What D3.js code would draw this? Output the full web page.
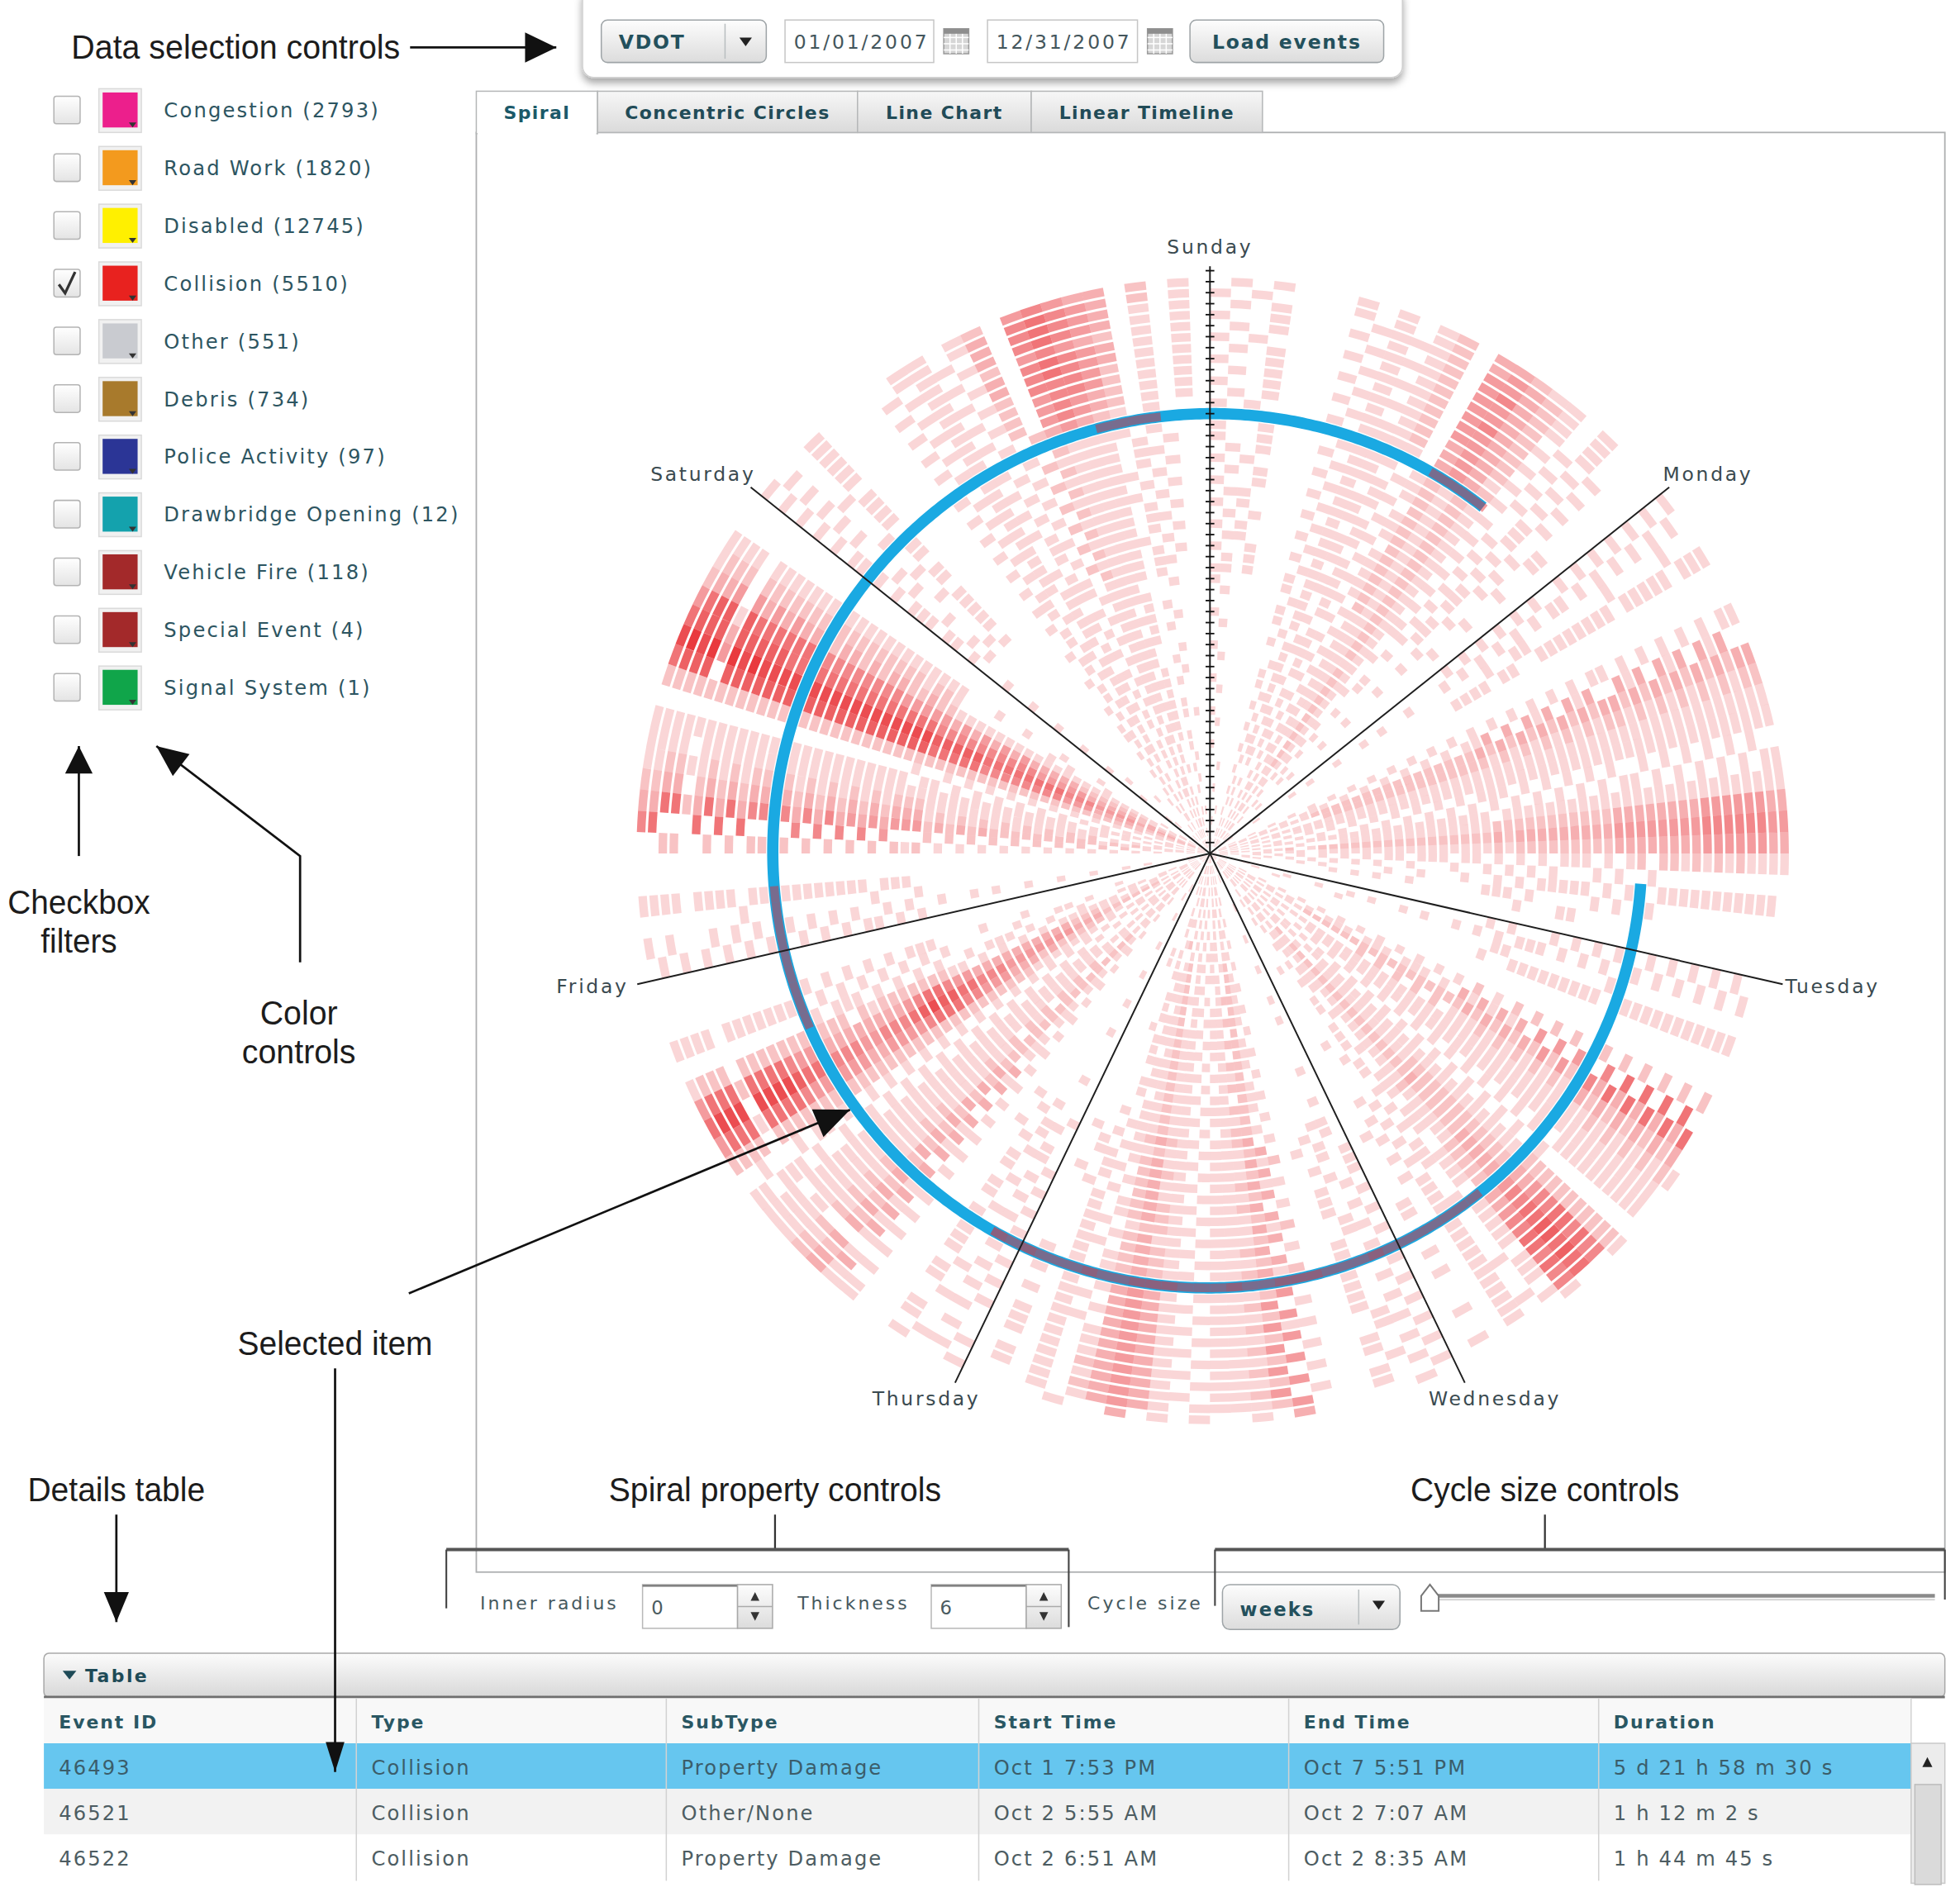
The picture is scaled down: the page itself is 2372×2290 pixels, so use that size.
<!DOCTYPE html>
<html>
<head>
<meta charset="utf-8">
<script src="https://cdn.jsdelivr.net/npm/d3@7"></script>
<style>
  body { margin: 0; background: #fff; }
  svg { display: block; }
  text { font-family: "DejaVu Sans", Verdana, sans-serif; }
  .note { font-family: "Liberation Sans", Arial, sans-serif; fill: #1c1c1c; }
</style>
</head>
<body>
<svg id="chart"></svg>
<script>
// ---- data ----
var eventTypes = ["Congestion", "Road Work", "Disabled", "Collision", "Other", "Debris",
  "Police Activity", "Drawbridge Opening", "Vehicle Fire", "Special Event", "Signal System"];
var eventCounts = [2793, 1820, 12745, 5510, 551, 734, 97, 12, 118, 4, 1];
var typeColors = ["#ec1f8c", "#f39a1e", "#fff000", "#e8221f", "#c9cbd0", "#a87a2c",
  "#2b3596", "#14a2ad", "#a3292a", "#a3292a", "#10a54a"];
var typeChecked = [false, false, false, true, false, false, false, false, false, false, false];

var dayNames = ["Sunday", "Monday", "Tuesday", "Wednesday", "Thursday", "Friday", "Saturday"];
var tabNames = ["Spiral", "Concentric Circles", "Line Chart", "Linear Timeline"];

// collisions per hour, one row per week (week 0 starts Sun 31 Dec 2006).
// each row: 28 blocks of 6 hours (4 per day, Sun..Sat), '.' = none, 1..9 = relative count
var collisionsByWeek = [
  "...... ...... ...... ......  ...... .1.11. 11.1.. 1.....  .1.... 1.11.1 .11.1. 1.1...  ...... .11.11 1.1.1. .1.1..  1..... 11.1.. .1.11. 11....  ...... 1.1.11 .1.12. 11.1..  .1.... ..1.1. 1.11.. .1....",
  "1.1... ..1.1. .11.1. 1.....  ...... 11.11. .1.11. 1.1...  ...1.. .11.1. 1.1.11 .1....  .1.... 1.1.11 ..11.1 11....  ...... .11.1. 1.1.1. .1.1..  .1.... 1.1.11 .1.121 1.1...  1..1.. .1..1. 1.1.1. ..1...",
  "...... .1.1.. 1..11. .1.1..  .1.... 1.11.1 .1.11. 1.....  ...... .1.1.1 1.1.1. 11....  ..1... 1.1.1. .11.1. .1.1..  ...... 11.1.1 1.1.11 1.....  1..... .11.1. 1.1221 .11...  ...... 1..1.. .1.11. 1.....",
  ".1.... ..1.1. .1.1.1 1.....  ...... .11.1. 1.1.1. .11...  1..... 1.1.11 .1.1.1 1.....  ...... .11.1. 1..11. 1.1...  .1.... 1.1.1. .11.1. .1....  ...... .11.11 1.1232 11....  .1.... ..11.. 1.1.1. .1.1..",
  "...1.. .1.... 1.1.1. .1....  ...... 1.1.11 .1.1.1 1.1...  .1.... .11.1. 1.11.. .1....  ...... 1.1.1. .1.11. 1.....  ..1... .11.11 1.1.1. 11....  ...... 1.11.1 .11232 1.1...  1..... .1.1.. .1.1.1 ......",
  "...... ..1.1. .1.11. 1.....  .1.... .11.1. 1.1.11 .1....  ...... 1.1.11 .1.1.1 1.1...  1..... .1.11. 1.1.1. .1....  ...... 1.11.1 .1.121 1.....  .1.... .11.1. 1.1233 11....  ...... 1..1.1 .11.1. .1....",
  ".1.... .1.1.. 1.1.1. .1.1..  ...... 1.1.11 .11.1. 1.....  ..1... .11.1. 1.1.11 .1....  ...... 1.1.1. .1.1.1 11....  .1.... .11.11 1.1.21 .1....  ...... 1.21.1 .12232 21....  ...1.. .1.1.. 1.11.. ..1...",
  "...... ..1.1. .11.1. 1.....  ...... .11.1. 1.1.21 .1....  .1.... 1.1.11 .1.1.1 1.1...  ...... .11.1. 1.1.1. .1....  ...... 1.11.1 .11.21 11....  .1.... .21.11 1.2343 21....  1..... ..1.1. .1.1.1 .1....",
  "..1... .1.... 1.1.11 ......  ...... 1.1.11 .1.1.1 1.1...  ...... .11.1. 1.11.1 .1....  .1.... 1.1.11 .1.1.2 1.....  ...... .11.1. 1.1.21 .1.1..  ...... 1.21.1 .12343 21....  ...... .1.1.. 1.1.1. ..1...",
  "...... ..1.1. .1.11. 1.1...  .1.... .11.11 1.1.1. .1....  ...... 1.1.1. .11.21 1.....  ...... .11.11 1.1.1. .1.1..  .1.... 1.1.1. .1.121 1.....  ...... .21.11 1.2343 21....  .1.... ..1.1. 1.1.1. .1....",
  "1..... .1.11. 1.1121 .1.1..  ...... 112.11 .11.21 1.1...  .1.... .12.1. 1.1.11 11....  ...... 1.21.1 .11.21 .1.1..  ...... .1211. 1.1121 1.....  .1.... 1.2211 .12343 211...  ...... .1.11. 1.11.1 .1....",
  "...... ..11.1 .11.21 1.....  .1.... .12211 1.1.21 .1.1..  ...... 1.2.11 .1.121 1.....  .1.... .12.11 1.1.21 11....  ...... 112.1. .1.232 1.1...  ...... .2211. 1.2453 21.1..  1..... ..1.1. .1.111 ......",
  ".1.... .1.1.1 1.1.21 .1....  ...... 1.2211 .11121 1.....  ..1... .12.11 1.1.21 .1.1..  ...... 112.1. .11.21 1.....  .1.... .1211. 1.1232 11....  ...... 1.2211 .12454 21....  ...... .11.1. 1.1.11 .1.1..",
  "1..... ..1.11 .11121 1.....  ...... .12211 1.1121 .1.1..  .1.... 112.11 .11.21 1.....  ...... .1221. 1.1121 11....  ...... 1.2.11 .11232 1.1...  .1.... .22111 1.2454 31....  ...... .1.11. 1.1111 .1....",
  "...... .1.11. 1.1121 .1.1..  .1.... 1.2211 .11121 1.....  ...... .12.11 1.1121 11....  .1.... 112.11 .11.21 .1....  ...... .12211 1.1243 1.1...  ...... 1.2211 .12564 311...  1..... ..1.11 .111.1 ......",
  ".1.... ..11.1 .11.21 1.....  ...... .12211 1.1121 .1.1..  .1.... 1.2.11 .11121 1.....  ...... .12211 1.1.21 11....  .1.... 112.11 .11243 .1....  ...... .22111 1.2564 31.1..  ...... .1.11. 1.1111 .1....",
  "1..... .1.1.1 1.1121 ......  ...... 1.2211 .11121 1.1...  ...... .12211 1.1121 .1....  .1.... 1.2.11 .11121 1.1...  ...... .12211 1.1343 1.....  .1.... 1.2211 .12564 311...  ...... ..1.11 .111.1 ..1...",
  "...... .1.11. .11121 .1.1..  .1.... .12211 1.1121 1.....  ...... 112.11 .11121 .1....  ...... .12211 1.1121 11....  ...... 1.2111 .11243 .1.1..  ...... .22111 1.2565 31....  1..... ..1.11 1.111. .1....",
  ".1.... ..11.1 1.1121 ......  ...... 1.2211 .11121 .1.1..  .1.... .12211 1.1121 1.....  ...... 112.11 .11121 .1....  .1.... .12211 1.1343 1.1...  ...... 1.2211 .12565 41....  ...... .1.11. .1111. ..1...",
  "1..... ...1.1 .11121 1.....  .1.... .12211 1.1121 1.1...  ...... 1.2.11 .11121 .1....  ...... .1221. 1.1121 11....  ...... 112.11 .12343 .1....  .1.... .22111 1.2565 31.1..  ...... ..1.11 1.1111 ......",
  "...... .1.111 1.1121 .1....  ...... 1.2211 .11121 1.....  .1.... .12211 1.1121 .1.1..  ...... 1.2111 .11121 1.....  ...... .12211 1.2343 11....  ...... 1.3211 .12565 41....  1..... ..11.1 .111.1 .1....",
  ".1.... ..1.11 .11111 .1.1..  ...... .12211 1.1121 1.....  ...... 112.11 .11121 .1....  .1.... .1221. 1.1121 11....  ...... 1.2111 .12453 .1.1..  .1.... .22111 1.2565 31....  ...... .1.11. 1.1111 ..1...",
  "1..... .1.1.1 1.1121 ......  .1.... 1.2211 .11121 .1....  ...... .12211 1.1121 1.1...  ...... 112.11 .11121 .1....  ...... .12211 1.2453 1.....  ...... 1.3211 .12675 41.1..  ...... ..1.11 .111.1 .1....",
  "...... .1.11. .11121 1.....  ...... .12211 1.1121 1.1...  .1.... 1.2.11 .11121 .1....  ...... .12211 1.1121 1.....  .1.... 112.11 .12453 .1....  ...... .22111 1.2675 31....  1..... ..1.11 1.1111 ......",
  ".1.... ..11.1 1.1121 .1.1..  ...... 1.2211 .11121 1.....  ...... .12211 1.1121 .1....  .1.... 1.2111 .11121 1.1...  ...... .12211 1.2564 1.....  .1.... 1.3211 .12675 41....  ...... .1.11. .1111. ..1...",
  "1..... .1.1.1 .11121 ......  ...... .12211 1.1121 .1.1..  .1.... 1.2.11 .11121 1.....  ...... .1221. 1.1121 11....  ...... 1.2111 .12564 1.1...  ...... .22111 1.2675 31....  ...... ..1.11 1.1111 .1....",
  "11.1.. .1.111 1.2121 11.1..  .1.1.. 113211 11.232 1.11..  1..1.. .32111 1.1221 11.1..  .11... 1.3211 .11232 1.1.1.  ..1.1. .32111 1.2675 21.1..  1.1... 2.4321 1.2675 4211..  .1.1.. .11.11 1.2111 .11...",
  ".1.1.. ..1111 .12121 1.1.1.  1..1.. .32111 1.1221 .1.1..  .11... 213111 .11232 1.1...  .1.1.. .32111 1.1121 11.1..  1..1.. 113211 .12676 2.11..  .1.1.. 1.4321 .12786 4221..  1.1... ..11.1 .21111 .1.1..",
  "1..1.. .1.1.1 112121 .11...  .1.1.. 1.3211 .11232 1.1.1.  1.1... .32111 1.1221 .1.1..  ..1.1. 213111 .11132 1.11..  .11... .32111 1.2686 21.1..  1..1.. 2.4321 1.2786 4321..  .1.1.. .1.11. 1.2111 1.1...",
  ".11... ..1111 .12121 1.1...  1..1.. .32111 1.1232 .1.1..  .1.1.. 113211 .11221 1.1.1.  1.1... .32111 1.1232 .11...  ..1.1. 1.3111 .12575 2.1...  .1.1.. .43211 1.2786 4211..  1..1.. ..11.1 .21111 .1.1..",
  "1.1... .1.11. 112121 .1.1..  .11... 1.3211 .11232 1.1...  .1.1.. .32111 1.1221 11.1..  1..1.. 113211 .11132 1.1.1.  .1.1.. .32111 1.2464 21.1..  1.1... 2.4321 1.2786 4221..  1..1.. .1.1.1 1.2111 .11...",
  ".1.1.. ..1111 .12121 1.1.1.  1..1.. .32111 1.1232 .11...  .1.1.. 213211 .11221 1.1...  1.1... .32111 1.1132 .1.1..  .11... 1.3111 .12453 2.1...  1..1.. .53211 1.2786 5321..  .1.1.. ..11.1 .21111 .1.1..",
  "1.1... .1.1.1 1.2121 .11...  .1.1.. 113211 .11232 1.1.1.  1..1.. .32111 1.1221 .1.1..  .1.1.. 1.3211 .11232 1.1...  1..1.. .32111 1.2453 21.1..  .1.1.. 2.4321 1.2786 5321..  1..1.. .1.11. 1.2111 1.1...",
  ".11... ..1111 .12121 1.1...  1.1... .32111 1.1232 1.1.1.  .1.1.. 2.3211 .11221 .11...  1..1.. .32111 1.1232 1.1...  .1.1.. 113211 .12453 1.1...  1..1.. .53211 1.2786 5221..  1.1... ..11.1 .21111 .1.1..",
  "1..1.. .1.11. 112121 .1.1..  .11... 1.3211 .11232 1.1...  1..1.. .42111 1.1232 11.1..  .1.1.. 213111 .11221 .11...  1.1... .32111 1.2343 21.1..  .1.1.. 2.5321 1.2786 5321..  1..1.. .1.11. 1.2111 1.1...",
  ".1.1.. ..1111 .12121 1.1.1.  1..1.. .32111 1.1232 .1.1..  .1.1.. 2.4211 .11232 1.1...  1.1... .32111 1.1132 1.1...  .1.1.. 113211 .12343 .11...  1..1.. .53211 1.2786 5221..  .1.1.. ..11.1 .21111 .1.1..",
  "1.1... .1.1.1 1.2121 .1.1..  .1.1.. 113211 .11232 1.1...  1..1.. .42111 1.1232 1.1.1.  .11... 1.3211 .11232 .11...  1..1.. .32111 1.2453 21.1..  .1.1.. 2.5321 1.2786 5321..  1.1... .1.11. 1.2111 .11...",
  ".1.1.. ..1111 .12121 1.1...  1..1.. .32111 1.1343 .1.1..  .1.1.. 2.4211 .11232 1.1.1.  1..1.. .32111 1.1232 1.1...  .11... 1.3111 .12453 2.1...  1..1.. .53211 1.2786 5321..  .1.1.. ..11.1 .21111 .1.1..",
  "1..1.. .1.11. 112121 .1.1..  .1.1.. 1.3211 .11343 1.1...  1.1... .42111 1.1232 .11...  .1.1.. 213211 .11232 1.1.1.  1..1.. .32111 1.2453 21.1..  .1.1.. 2.5321 1.2786 5221..  1..1.. .1.11. 1.2111 1.1...",
  "1..1.. ..1111 .12121 1.1.1.  .1.1.. 1.3211 .11343 2.....  ...... ...... ...... 444444  454445 554454 445554 454445  45.... ...... ...... .44444  4444.. ...... ...... ......  ...... ...... .....4 444...",
  "...... ...... ..4444 ..1.1.  1..1.. .32111 1.1343 .1.1..  .1.1.. 2.5311 .12343 1.1...  1..1.. .42111 1.1343 1.1.1.  .1.1.. 113211 .12464 2.1...  1..1.. 2.5321 1.2786 6321..  1.1... ..11.1 .23432 1.1...",
  "1.1... .1.111 1.3432 1.1...  .1.1.. 113211 .11343 2.1...  1..1.. .53211 1.2353 1.1.1.  .1.1.. 1.4211 .11343 .11...  1..1.. .32111 1.2464 2.1...  .1.1.. 2.5321 1.2786 6321..  1..1.. .1.11. 2.4543 2.1.1.",
  ".1.1.. ..1111 2.3431 .1.1..  1..1.. .32111 1.1343 2.1...  .1.1.. 2.6321 1.2454 1.1...  1..1.. .42111 1.1343 1.1.1.  .1.1.. 113211 .12575 2.1...  1.1... .63211 1.2787 6421..  .1.1.. ..11.1 2.4543 2.1.1.",
  "1..1.. .1.1.1 2.3432 1.1...  .11... 1.3211 .11343 1.1...  1..1.. .63211 1.2565 1.1.1.  .1.1.. 114211 .11343 .11...  1.1... .32111 .12686 2.1...  .1.1.. 2.6321 1.2787 6321..  1..1.. .1.11. 2.4554 2.1.1.",
  ".1.1.. ..1111 2.4432 .1.1..  1..1.. .32111 1.1343 2.1...  .1.1.. 2.6321 1.2565 1.1...  1.1... .42111 1.1343 1.1.1.  .1.1.. 113211 1.2686 2.1...  1..1.. .63211 1.2797 6421..  .1.1.. ..11.1 2.5554 2.1.1.",
  "1..1.. .1.1.1 2.4432 1.1...  .1.1.. 113211 .11454 1.1...  1..1.. .63211 1.2676 .11...  .11... 1.4211 .11343 1.1.1.  1..1.. .32111 .12686 2.1...  .1.1.. 2.6321 1.2787 6321..  1.1... .1.11. 3.5654 3.1.1.",
  ".1.1.. ..1111 2.4532 .1.1..  1..1.. .32111 1.1454 2.1...  .1.1.. 2.6321 1.2676 1.1...  1..1.. .42111 1.1343 1.1.1.  .11... 113211 1.2686 2.1...  1..1.. .63211 1.2797 7421..  .1.1.. ..11.1 3.5654 3.1.1.",
  "1.1... .1.1.1 2.4432 1.1...  .1.1.. 1.3211 .11454 1.1...  1..1.. .63211 1.2565 1.1.1.  .1.1.. 1.4211 .11343 2.1...  ...... ....1. 1..1.2 ......  ...... ..2.1. 1.2.43 1.....  1..1.. .1.11. 2.4543 2.1.1.",
  ".1.1.. ..1111 2.4432 .1.1..  1..1.. .32111 1.1454 2.1...  .1.1.. 2.6321 1.2676 1.1...  1.1... .42111 1.1343 1.1.1.  .1.1.. 113211 1.2686 2.1...  1..1.. 2.6321 1.2797 7421..  .1.1.. ..11.1 3.5654 3.1.1.",
  "1..1.. .1.1.1 2.4532 1.1...  .11... 113211 .11454 1.1...  1..1.. .63211 1.2565 .11...  .1.1.. 1.4211 .11343 2.1.1.  1..1.. .32111 .12686 2.1...  .1.1.. 2.6321 1.2787 7321..  1..1.. .1.11. 3.5654 3.1.1.",
  ".1.1.. ..1111 2.4432 1.1...  1..1.. .32111 1.1454 1.1...  .1.1.. 2.6321 1.2565 1.1.1.  1..1.. .42111 1.1343 1.1...  .11... 113211 1.2686 2.1...  1..1.. .63211 1.2797 6321..  .1.1.. ..11.1 3.5654 3.2.1.",
  "1.1... .1.1.1 2.3432 1.1...  .1.1.. 1.3211 .11343 1.1...  ...... ....1. ..1..1 ......  .1.... .3.1.. 1.1.3. .1....  1..1.. 113211 1.2464 1.1...  .1.1.. .53211 1.2686 4211..  1..1.. ..11.1 2.4543 3.2.1.",
  ".1.1.. .1.1.1 2.3321 1.1...  1..1.. 1.3211 .11343 1....."
];

// selected collision (highlighted in blue)
var selectedStart = Date.UTC(2007, 9, 1, 19, 53);
var selectedEnd = Date.UTC(2007, 9, 7, 17, 51);
var spiralOrigin = Date.UTC(2006, 11, 31);

var tableColumns = ["Event ID", "Type", "SubType", "Start Time", "End Time", "Duration"];
var tableRows = [
  ["46493", "Collision", "Property Damage", "Oct 1 7:53 PM", "Oct 7 5:51 PM", "5 d 21 h 58 m 30 s"],
  ["46521", "Collision", "Other/None", "Oct 2 5:55 AM", "Oct 2 7:07 AM", "1 h 12 m 2 s"],
  ["46522", "Collision", "Property Damage", "Oct 2 6:51 AM", "Oct 2 8:35 AM", "1 h 44 m 45 s"]
];

// ---- page ----
var W = 1568, H = 1514;
var svg = d3.select("#chart")
  .attr("width", 2372).attr("height", 2290)
  .attr("viewBox", "0 0 " + W + " " + H);

var defs = svg.append("defs");
function grad(id, c0, c1) {
  var lg = defs.append("linearGradient").attr("id", id)
    .attr("x1", 0).attr("y1", 0).attr("x2", 0).attr("y2", 1);
  lg.append("stop").attr("offset", "0%").attr("stop-color", c0);
  lg.append("stop").attr("offset", "100%").attr("stop-color", c1);
}
grad("btn", "#fdfdfd", "#dcdcdc");
grad("tab", "#f7f7f7", "#dadada");
grad("bar", "#fcfcfc", "#d8d8d8");
grad("chk", "#ffffff", "#e4e4e4");
defs.append("filter").attr("id", "shadow").attr("x", "-10%").attr("y", "-30%").attr("width", "120%").attr("height", "180%")
  .append("feDropShadow").attr("dx", 0).attr("dy", 4).attr("stdDeviation", 3)
  .attr("flood-color", "#000").attr("flood-opacity", 0.35);

var ink = "#2d5561";

// ---- top control panel ----
var panel = svg.append("g");
panel.append("rect").attr("x", 466).attr("y", -10).attr("width", 656).attr("height", 72).attr("rx", 9)
  .attr("fill", "#fff").attr("stroke", "#cfcfcf").attr("filter", "url(#shadow)");

function button(x, y, w, h, label, divider) {
  panel.append("rect").attr("x", x).attr("y", y).attr("width", w).attr("height", h).attr("rx", 5)
    .attr("fill", "url(#btn)").attr("stroke", "#9ea4a7");
  panel.append("text").attr("x", divider ? x + 14 : x + w / 2).attr("y", y + 23)
    .attr("text-anchor", divider ? "start" : "middle")
    .attr("font-size", 15.5).attr("font-weight", "bold").attr("letter-spacing", 1.2)
    .attr("fill", "#23505c").text(label);
  if (divider) {
    panel.append("line").attr("x1", x + divider).attr("x2", x + divider).attr("y1", y + 3).attr("y2", y + h - 3)
      .attr("stroke", "#b9bec0");
    var ax = x + divider + (w - divider) / 2;
    panel.append("path").attr("d", "M" + (ax - 5) + "," + (y + 14) + "L" + (ax + 5) + "," + (y + 14) + "L" + ax + "," + (y + 21) + "Z")
      .attr("fill", "#222");
  }
}
function dateField(x, w, label) {
  panel.append("rect").attr("x", x).attr("y", 16).attr("width", w).attr("height", 34)
    .attr("fill", "#fff").attr("stroke", "#c6c6c6");
  panel.append("text").attr("x", x + 7).attr("y", 39).attr("font-size", 15.5).attr("letter-spacing", 1.9)
    .attr("fill", "#44565c").text(label);
  var ix = x + w + 8;
  panel.append("rect").attr("x", ix).attr("y", 23).attr("width", 20).attr("height", 20)
    .attr("fill", "#d6d6d6").attr("stroke", "#9a9a9a");
  [0.25, 0.5, 0.75].forEach(function (f) {
    panel.append("line").attr("x1", ix + 20 * f).attr("x2", ix + 20 * f).attr("y1", 26).attr("y2", 43).attr("stroke", "#fff");
    panel.append("line").attr("x1", ix).attr("x2", ix + 20).attr("y1", 23 + 20 * f + 2).attr("y2", 23 + 20 * f + 2).attr("stroke", "#fff");
  });
  panel.append("rect").attr("x", ix).attr("y", 23).attr("width", 20).attr("height", 4).attr("fill", "#8e8e8e");
}
button(481, 16, 132, 34, "VDOT", 99);
dateField(628, 119, "01/01/2007");
dateField(790, 120, "12/31/2007");
button(952, 16, 155, 34, "Load events", 0);

// ---- legend ----
var legend = svg.append("g");
eventTypes.forEach(function (name, i) {
  var y = 88 + i * 46.2;
  legend.append("rect").attr("x", 43).attr("y", y - 11).attr("width", 21).attr("height", 22).attr("rx", 2)
    .attr("fill", "url(#chk)").attr("stroke", "#b4b4b4");
  if (typeChecked[i]) {
    legend.append("path").attr("d", "M" + 47 + "," + (y + 1) + "L" + 52 + "," + (y + 8) + "L" + 60 + "," + (y - 9))
      .attr("fill", "none").attr("stroke", "#333").attr("stroke-width", 2.2);
  }
  legend.append("rect").attr("x", 79).attr("y", y - 17).attr("width", 34).attr("height", 35)
    .attr("fill", "#f1f1f1").attr("stroke", "#dadada");
  legend.append("rect").attr("x", 82).attr("y", y - 14).attr("width", 28).attr("height", 28).attr("fill", typeColors[i]);
  legend.append("path").attr("d", "M" + 103 + "," + (y + 10) + "L" + 109 + "," + (y + 10) + "L" + 106 + "," + (y + 14) + "Z")
    .attr("fill", "#333");
  legend.append("text").attr("x", 131).attr("y", y + 6).attr("font-size", 16).attr("letter-spacing", 1.45)
    .attr("fill", ink).text(name + " (" + eventCounts[i] + ")");
});

// ---- tabs and main panel ----
var tabX = [381, 478, 686, 825, 1010];
svg.append("rect").attr("x", 381).attr("y", 106).attr("width", 1175).attr("height", 1152)
  .attr("fill", "#fff").attr("stroke", "#aeb0b1").attr("stroke-width", 1.2);
tabNames.forEach(function (t, i) {
  var x0 = tabX[i], x1 = tabX[i + 1];
  svg.append("rect").attr("x", x0).attr("y", 73).attr("width", x1 - x0).attr("height", i === 0 ? 34 : 33)
    .attr("fill", i === 0 ? "#fff" : "url(#tab)").attr("stroke", "#b5b7b8");
  svg.append("text").attr("x", (x0 + x1) / 2).attr("y", 95).attr("text-anchor", "middle")
    .attr("font-size", 14.5).attr("font-weight", "bold").attr("letter-spacing", 0.95)
    .attr("fill", i === 0 ? "#1b5969" : "#214b57").text(t);
});
svg.append("rect").attr("x", 382).attr("y", 100).attr("width", 95).attr("height", 8).attr("fill", "#fff");

// ---- spiral ----
var cx = 968, cy = 683, pitch = 8.8, cellThick = 6.8, binHours = 1, lineLen = 470;
var angle = d3.scaleLinear().domain([0, 168]).range([0, 2 * Math.PI]);
var radius = d3.scaleLinear().domain([0, 53]).range([0, 53 * pitch]);

var cells = [];
collisionsByWeek.forEach(function (row, w) {
  row.trim().split(/\s+/).forEach(function (block, g) {
    for (var i = 0; i < Math.min(block.length, 6); i++) {
      if (block[i] !== ".") cells.push({ week: w, hour: g * 6 + i, v: +block[i] });
    }
  });
});

var spiral = svg.append("g").attr("transform", "translate(" + cx + "," + cy + ")");

// selected item as a spiral band
var hoursFrom = function (t) { return (t - spiralOrigin) / 3.6e6; };
var h0 = hoursFrom(selectedStart), h1 = hoursFrom(selectedEnd);
var hs = d3.range(h0, h1, 0.25).concat([h1]);
var spiralLine = d3.lineRadial()
  .angle(function (h) { return angle(h % 168); })
  .radius(function (h) { return radius(h / 168); });
spiral.append("path").attr("d", spiralLine(hs)).attr("fill", "none")
  .attr("stroke", "#1aa9e2").attr("stroke-width", 9);

var cellArc = d3.arc()
  .innerRadius(function (d) { return radius(d.week + (d.hour + binHours / 2) / 168) - cellThick / 2; })
  .outerRadius(function (d) { return radius(d.week + (d.hour + binHours / 2) / 168) + cellThick / 2; })
  .startAngle(function (d) { return angle(d.hour); })
  .endAngle(function (d) { return angle(d.hour + binHours); });

spiral.selectAll("path.cell").data(cells).enter().append("path")
  .attr("class", "cell")
  .attr("d", cellArc)
  .attr("fill", "#e7262b")
  .attr("fill-opacity", function (d) { return 0.1 + d.v * 0.09; });

// day spokes
var days = dayNames.map(function (name, i) {
  var a = angle(i * 24);
  return { name: name, x: lineLen * Math.sin(a), y: -lineLen * Math.cos(a) };
});
spiral.selectAll("line.day").data(days).enter().append("line")
  .attr("class", "day")
  .attr("x1", 0).attr("y1", 0)
  .attr("x2", function (d) { return d.x; }).attr("y2", function (d) { return d.y; })
  .attr("stroke", "#1e1e1e").attr("stroke-width", 1.3);

// week ticks along the Sunday spoke
spiral.selectAll("line.tick").data(d3.range(1, 54)).enter().append("line")
  .attr("class", "tick")
  .attr("x1", -3.5).attr("x2", 3.5)
  .attr("y1", function (k) { return -radius(k); }).attr("y2", function (k) { return -radius(k); })
  .attr("stroke", "#111").attr("stroke-width", 1.2);

var labelPos = [[0, -10, "middle"], [-5, -5, "start"], [2, 7, "start"], [24, 18, "middle"],
  [-23, 18, "middle"], [-7, 7, "end"], [4, -5, "end"]];
spiral.selectAll("text.day").data(days).enter().append("text")
  .attr("class", "day")
  .attr("x", function (d, i) { return d.x + labelPos[i][0]; })
  .attr("y", function (d, i) { return d.y + labelPos[i][1]; })
  .attr("text-anchor", function (d, i) { return labelPos[i][2]; })
  .attr("font-size", 15.5).attr("letter-spacing", 1.8).attr("fill", "#3a4a50")
  .text(function (d) { return d.name; });

// ---- bottom controls ----
var ctl = svg.append("g");
function bracket(xl, xr, xm, yl, yr) {
  ctl.append("line").attr("x1", xm).attr("x2", xm).attr("y1", 1212).attr("y2", 1240).attr("stroke", "#333").attr("stroke-width", 1.5);
  ctl.append("line").attr("x1", xl).attr("x2", xr).attr("y1", 1240).attr("y2", 1240).attr("stroke", "#555").attr("stroke-width", 2.6);
  ctl.append("line").attr("x1", xl).attr("x2", xl).attr("y1", 1240).attr("y2", yl).attr("stroke", "#444").attr("stroke-width", 1.4);
  ctl.append("line").attr("x1", xr).attr("x2", xr).attr("y1", 1240).attr("y2", yr).attr("stroke", "#444").attr("stroke-width", 1.4);
}
bracket(357, 855, 620, 1287, 1302);
bracket(972, 1556, 1236, 1285, 1280);

function ctlLabel(x, t) {
  ctl.append("text").attr("x", x).attr("y", 1288).attr("font-size", 14.5).attr("letter-spacing", 2)
    .attr("fill", "#45585e").text(t);
}
function spinner(x, val) {
  ctl.append("rect").attr("x", x).attr("y", 1268).attr("width", 76).attr("height", 35).attr("fill", "#fff").attr("stroke", "#b8b8b8");
  ctl.append("line").attr("x1", x).attr("x2", x + 76).attr("y1", 1269).attr("y2", 1269).attr("stroke", "#777").attr("stroke-width", 1.5);
  ctl.append("rect").attr("x", x + 76).attr("y", 1268).attr("width", 28).attr("height", 35).attr("fill", "url(#btn)").attr("stroke", "#a8a8a8");
  ctl.append("line").attr("x1", x + 76).attr("x2", x + 104).attr("y1", 1285.5).attr("y2", 1285.5).attr("stroke", "#aaa");
  var ax = x + 90;
  ctl.append("path").attr("d", "M" + (ax - 3.5) + ",1281L" + (ax + 3.5) + ",1281L" + ax + ",1274Z").attr("fill", "#333");
  ctl.append("path").attr("d", "M" + (ax - 3.5) + ",1290L" + (ax + 3.5) + ",1290L" + ax + ",1297Z").attr("fill", "#333");
  ctl.append("text").attr("x", x + 7).attr("y", 1292).attr("font-size", 15).attr("fill", "#4a5b60").text(val);
}
ctlLabel(384, "Inner radius");
spinner(514, "0");
ctlLabel(638, "Thickness");
spinner(745, "6");
ctlLabel(870, "Cycle size");
ctl.append("rect").attr("x", 978).attr("y", 1268).attr("width", 142).attr("height", 36).attr("rx", 6)
  .attr("fill", "url(#btn)").attr("stroke", "#9ea4a7");
ctl.append("line").attr("x1", 1087).attr("x2", 1087).attr("y1", 1272).attr("y2", 1300).attr("stroke", "#b9bec0");
ctl.append("text").attr("x", 992).attr("y", 1293).attr("font-size", 15).attr("font-weight", "bold").attr("letter-spacing", 1.4)
  .attr("fill", "#23505c").text("weeks");
ctl.append("path").attr("d", "M1098,1281L1108,1281L1103,1288Z").attr("fill", "#222");
ctl.append("line").attr("x1", 1150).attr("x2", 1548).attr("y1", 1277).attr("y2", 1277).attr("stroke", "#8a8a8a").attr("stroke-width", 3);
ctl.append("line").attr("x1", 1150).attr("x2", 1548).attr("y1", 1280).attr("y2", 1280).attr("stroke", "#d8d8d8").attr("stroke-width", 1.5);
ctl.append("path").attr("d", "M1137,1289L1137,1277L1144,1268L1151,1277L1151,1289Z").attr("fill", "#fff").attr("stroke", "#777").attr("stroke-width", 1.3);

// ---- details table ----
var tbl = svg.append("g");
var colX = [35, 285, 533, 783, 1031, 1279, 1529];
tbl.append("rect").attr("x", 35).attr("y", 1323).attr("width", 1521).attr("height", 35).attr("rx", 4)
  .attr("fill", "url(#bar)").attr("stroke", "#a9a9a9");
tbl.append("line").attr("x1", 35).attr("x2", 1556).attr("y1", 1358).attr("y2", 1358).attr("stroke", "#6f6f6f").attr("stroke-width", 2);
tbl.append("path").attr("d", "M50,1337L61,1337L55.5,1344Z").attr("fill", "#1e4a57");
tbl.append("text").attr("x", 68).attr("y", 1346).attr("font-size", 14.5).attr("font-weight", "bold").attr("letter-spacing", 1.6)
  .attr("fill", "#1e4a57").text("Table");
tbl.append("rect").attr("x", 35).attr("y", 1359).attr("width", 1494).attr("height", 36).attr("fill", "#f8f8f8");
tableColumns.forEach(function (c, i) {
  tbl.append("text").attr("x", colX[i] + 12).attr("y", 1383).attr("font-size", 14.5).attr("font-weight", "bold")
    .attr("letter-spacing", 1.3).attr("fill", "#2a5763").text(c);
});
var rowH = 36.5, rowFill = ["#66c6ef", "#f2f2f2", "#ffffff"];
tableRows.forEach(function (r, j) {
  var y = 1395 + j * rowH;
  tbl.append("rect").attr("x", 35).attr("y", y).attr("width", 1494).attr("height", rowH).attr("fill", rowFill[j]);
  r.forEach(function (v, i) {
    tbl.append("text").attr("x", colX[i] + 12).attr("y", y + 25).attr("font-size", 16).attr("letter-spacing", 1.4)
      .attr("fill", j === 0 ? "#3b5d6a" : "#4d5d62").text(v);
  });
});
colX.slice(1, 6).forEach(function (x) {
  tbl.append("line").attr("x1", x).attr("x2", x).attr("y1", 1359).attr("y2", 1505).attr("stroke", "#d2d2d2");
});
tbl.append("line").attr("x1", 1529).attr("x2", 1529).attr("y1", 1359).attr("y2", 1395).attr("stroke", "#d2d2d2");
tbl.append("rect").attr("x", 1529).attr("y", 1395).attr("width", 27).attr("height", 112).attr("fill", "#ececec").attr("stroke", "#c9c9c9");
tbl.append("rect").attr("x", 1532).attr("y", 1428).attr("width", 21).attr("height", 80).attr("fill", "#dadada").attr("stroke", "#bcbcbc");
tbl.append("path").attr("d", "M1538,1414L1546,1414L1542,1406Z").attr("fill", "#222");

// ---- annotations ----
var notes = [
  { lines: ["Data selection controls"], x: 57, y: 47, anchor: "start", len: [263] },
  { lines: ["Checkbox", "filters"], x: 63, y: 731, anchor: "middle", len: [114, 61] },
  { lines: ["Color", "controls"], x: 239, y: 820, anchor: "middle", len: [62, 91] },
  { lines: ["Selected item"], x: 268, y: 1084, anchor: "middle", len: [156] },
  { lines: ["Details table"], x: 93, y: 1201, anchor: "middle", len: [142] },
  { lines: ["Spiral property controls"], x: 620, y: 1201, anchor: "middle", len: [266] },
  { lines: ["Cycle size controls"], x: 1236, y: 1201, anchor: "middle", len: [215] }
];
notes.forEach(function (n) {
  n.lines.forEach(function (t, i) {
    svg.append("text").attr("class", "note")
      .attr("x", n.x).attr("y", n.y + i * 31).attr("text-anchor", n.anchor)
      .attr("font-size", 27).attr("textLength", n.len[i]).attr("lengthAdjust", "spacingAndGlyphs")
      .text(t);
  });
});

function arrow(points, len, wid) {
  var g = svg.append("g");
  g.append("path").attr("d", d3.line()(points)).attr("fill", "none").attr("stroke", "#111").attr("stroke-width", 1.8);
  var p = points[points.length - 2], q = points[points.length - 1];
  var a = Math.atan2(q[1] - p[1], q[0] - p[0]);
  var bx = q[0] - len * Math.cos(a), by = q[1] - len * Math.sin(a);
  var px = -Math.sin(a) * wid / 2, py = Math.cos(a) * wid / 2;
  g.append("path").attr("d", "M" + q[0] + "," + q[1] + "L" + (bx + px) + "," + (by + py) + "L" + (bx - px) + "," + (by - py) + "Z")
    .attr("fill", "#111");
}
arrow([[328, 38], [445, 38]], 25, 24);
arrow([[63, 685], [63, 597]], 22, 22);
arrow([[240, 770], [240, 685], [125, 597]], 25, 22);
arrow([[327, 1035], [680, 888]], 28, 24);
arrow([[268, 1095], [268, 1418]], 24, 15);
arrow([[93, 1212], [93, 1298]], 24, 20);
</script>
</body>
</html>
